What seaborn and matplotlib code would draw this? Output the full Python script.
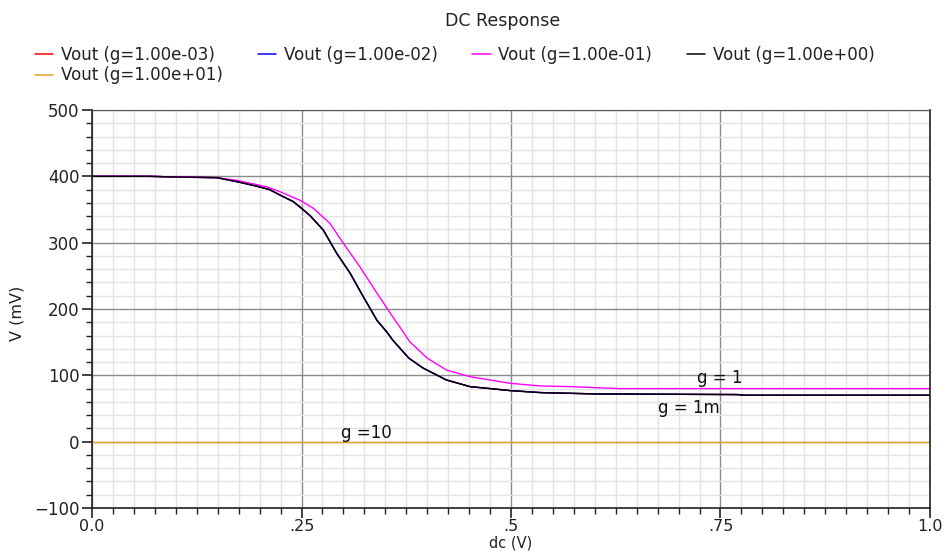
import numpy as np
import pandas as pd
import matplotlib
matplotlib.use("Agg")
import matplotlib.pyplot as plt
from matplotlib.ticker import MultipleLocator, FixedLocator, FixedFormatter
from matplotlib.lines import Line2D
import seaborn as sns

# ---- data ----
dc_black = [0.0, 0.069, 0.10, 0.149, 0.173, 0.197, 0.212, 0.224, 0.240, 0.248, 0.260, 0.276,
            0.292, 0.308, 0.324, 0.340, 0.352, 0.359, 0.378, 0.395, 0.423, 0.451, 0.475,
            0.499, 0.535, 0.60, 0.77, 0.78, 1.0]
v_black = [400, 400, 399, 398, 392, 385, 380, 372, 362, 354, 341, 319,
           284, 254, 218, 183, 165, 153, 126, 111, 93, 83, 80,
           77, 74, 72, 71, 70, 70]

dc_mag = [0.0, 0.069, 0.10, 0.149, 0.173, 0.209, 0.224, 0.248, 0.264, 0.284, 0.300, 0.320,
          0.340, 0.359, 0.370, 0.379, 0.400, 0.423, 0.451, 0.475, 0.499, 0.535, 0.57,
          0.63, 1.0]
v_mag = [400, 400, 399, 398, 394, 384, 377, 364, 352, 329, 299, 263,
         224, 188, 168, 151, 126, 108, 98, 93, 88, 84, 83,
         80, 80]

dc_flat = [0.0, 1.0]
v_flat = [0, 0]

series_names = ["Vout (g=1.00e-03)", "Vout (g=1.00e-02)", "Vout (g=1.00e-01)",
                "Vout (g=1.00e+00)", "Vout (g=1.00e+01)"]
series_colors = ["#ff0000", "#0000ff", "#ff00ff", "#000000", "#e8a030"]
series_x = [dc_black, dc_black, dc_mag, dc_black, dc_flat]
series_y = [v_black, v_black, v_mag, v_black, v_flat]

xtick_vals = [0.0, 0.25, 0.5, 0.75, 1.0]
xtick_labels = ["0.0", ".25", ".5", ".75", "1.0"]
ytick_vals = [-100, 0, 100, 200, 300, 400, 500]
ytick_labels = ["\u2212100", "0", "100", "200", "300", "400", "500"]

annotations = [("g = 1", 0.749, 96), ("g = 1m", 0.712, 51), ("g =10", 0.327, 13.5)]

# ---- plot ----
sns.set_theme(style="white")
plt.rcParams["font.family"] = ["DejaVu Sans"]

frames = []
for name, xs, ys in zip(series_names, series_x, series_y):
    frames.append(pd.DataFrame({"dc": xs, "V": ys, "series": name}))
df = pd.concat(frames, ignore_index=True)

fig = plt.figure(figsize=(9.44, 5.51), dpi=100)
ax = fig.add_axes([92/944, 43/551, 838/944, 398/551])

sns.lineplot(data=df, x="dc", y="V", hue="series", hue_order=series_names,
             palette=dict(zip(series_names, series_colors)), ax=ax,
             linewidth=1.0, estimator=None, sort=False, legend=False)

ax.set_xlim(0, 1.0)
ax.set_ylim(-100, 500)

ax.xaxis.set_major_locator(FixedLocator(xtick_vals))
ax.xaxis.set_major_formatter(FixedFormatter(xtick_labels))
ax.xaxis.set_minor_locator(MultipleLocator(0.025))
ax.yaxis.set_major_locator(FixedLocator(ytick_vals))
ax.yaxis.set_major_formatter(FixedFormatter(ytick_labels))
ax.yaxis.set_minor_locator(MultipleLocator(20))

ax.grid(which="minor", color="#e3e3e3", linewidth=1.0)
ax.grid(which="major", color="#8a8a8a", linewidth=1.0)
ax.set_axisbelow(True)

ax.tick_params(which="major", direction="out", length=7, width=1.2, color="#222222",
               labelsize=12, pad=2, bottom=True, left=True, labelcolor="#222222")
ax.tick_params(axis="x", which="major", labelsize=11.5, pad=1)
ax.tick_params(which="minor", direction="out", length=4, width=1.0, color="#222222",
               bottom=True, left=True)
for s in ax.spines.values():
    s.set_color("#222222")
    s.set_linewidth(1.2)
ax.spines["top"].set_color("#555555")
ax.spines["top"].set_linewidth(0.8)

ax.set_xlabel("dc (V)", fontsize=10.5, labelpad=1, color="#222222")
ax.set_ylabel("V (mV)", fontsize=11.5, color="#222222")
ax.yaxis.set_label_coords(-0.080, 0.49)

for txt, x, y in annotations:
    ax.text(x, y, txt, fontsize=12, ha="center", va="center", color="#111111")

fig.text(503/944, 1 - 21/551, "DC Response", ha="center", va="center", fontsize=12.5,
         color="#222222")

order = [0, 4, 1, 2, 3]
handles = [Line2D([0], [0], color=series_colors[i], linewidth=1.1) for i in order]
labels = [series_names[i] for i in order]
fig.legend(handles, labels, loc="upper left", bbox_to_anchor=(35/944, 1 - 46/551),
           ncol=4, frameon=False, fontsize=12, handlelength=1.1, handletextpad=0.45,
           columnspacing=2.1, labelspacing=0.15, borderaxespad=0, borderpad=0,
           labelcolor="#222222")

fig.savefig("out.png", dpi=100)
